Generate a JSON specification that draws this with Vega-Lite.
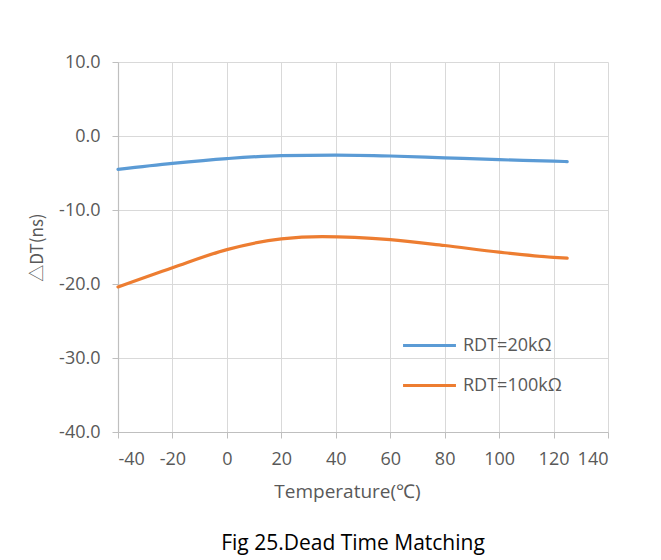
{
  "$schema": "https://vega.github.io/schema/vega-lite/v6.json",
  "width": 490,
  "height": 370,
  "autosize": {"type": "none"},
  "padding": {"left": 118, "top": 62, "right": 53, "bottom": 128},
  "background": "white",
  "title": {
    "text": "Fig 25.Dead Time Matching",
    "orient": "bottom",
    "font": "Open Sans",
    "fontSize": 21,
    "fontWeight": "normal",
    "color": "#000000",
    "offset": 32,
    "dx": -10
  },
  "data": {
    "values": [
      {"t": -40, "v": -4.5, "s": "RDT=20kΩ"},
      {"t": -20, "v": -3.7, "s": "RDT=20kΩ"},
      {"t": 0, "v": -3.05, "s": "RDT=20kΩ"},
      {"t": 20, "v": -2.65, "s": "RDT=20kΩ"},
      {"t": 40, "v": -2.58, "s": "RDT=20kΩ"},
      {"t": 60, "v": -2.7, "s": "RDT=20kΩ"},
      {"t": 80, "v": -2.95, "s": "RDT=20kΩ"},
      {"t": 100, "v": -3.2, "s": "RDT=20kΩ"},
      {"t": 120, "v": -3.4, "s": "RDT=20kΩ"},
      {"t": 125, "v": -3.46, "s": "RDT=20kΩ"},
      {"t": -40, "v": -20.4, "s": "RDT=100kΩ"},
      {"t": -20, "v": -17.8, "s": "RDT=100kΩ"},
      {"t": 0, "v": -15.35, "s": "RDT=100kΩ"},
      {"t": 20, "v": -13.9, "s": "RDT=100kΩ"},
      {"t": 35, "v": -13.6, "s": "RDT=100kΩ"},
      {"t": 60, "v": -14.0, "s": "RDT=100kΩ"},
      {"t": 80, "v": -14.8, "s": "RDT=100kΩ"},
      {"t": 100, "v": -15.7, "s": "RDT=100kΩ"},
      {"t": 120, "v": -16.4, "s": "RDT=100kΩ"},
      {"t": 125, "v": -16.5, "s": "RDT=100kΩ"}
    ]
  },
  "mark": {"type": "line", "interpolate": "monotone", "strokeWidth": 3.2, "strokeCap": "round"},
  "encoding": {
    "x": {
      "field": "t",
      "type": "quantitative",
      "scale": {"domain": [-40, 140], "nice": false, "zero": false},
      "axis": {
        "values": [-40, -20, 0, 20, 40, 60, 80, 100, 120, 140],
        "labelExpr": "replace(datum.label, '−', '-')",
        "title": "Temperature(℃)",
        "titleFontSize": 19,
        "titleX": 229,
        "titlePadding": 14,
        "labelPadding": 12
      }
    },
    "y": {
      "field": "v",
      "type": "quantitative",
      "scale": {"domain": [-40, 10], "nice": false, "zero": false},
      "axis": {
        "values": [-40, -30, -20, -10, 0, 10],
        "format": ".1f",
        "labelExpr": "replace(datum.label, '−', '-')",
        "title": "△DT(ns)",
        "titleFont": "Noto Sans CJK SC",
        "titleFontSize": 17,
        "titlePadding": 12,
        "labelPadding": 12
      }
    },
    "color": {
      "field": "s",
      "type": "nominal",
      "sort": ["RDT=20kΩ", "RDT=100kΩ"],
      "scale": {"domain": ["RDT=20kΩ", "RDT=100kΩ"], "range": ["#5b9bd5", "#ed7d31"]},
      "legend": {
        "title": null,
        "orient": "none",
        "legendX": 283,
        "legendY": 255,
        "symbolType": "stroke",
        "symbolSize": 2800,
        "symbolStrokeWidth": 3.2,
        "labelFontSize": 18,
        "labelFont": "Open Sans",
        "labelColor": "#595959",
        "labelOffset": 5,
        "rowPadding": 2
      }
    }
  },
  "config": {
    "view": {"stroke": null},
    "axis": {
      "grid": true,
      "gridColor": "#d9d9d9",
      "gridWidth": 1,
      "domainColor": "#bfbfbf",
      "domainWidth": 1.2,
      "tickColor": "#bfbfbf",
      "tickSize": 6,
      "labelFont": "Open Sans",
      "labelFontSize": 18,
      "labelColor": "#595959",
      "titleFont": "Open Sans",
      "titleFontWeight": "normal",
      "titleColor": "#595959"
    }
  }
}
